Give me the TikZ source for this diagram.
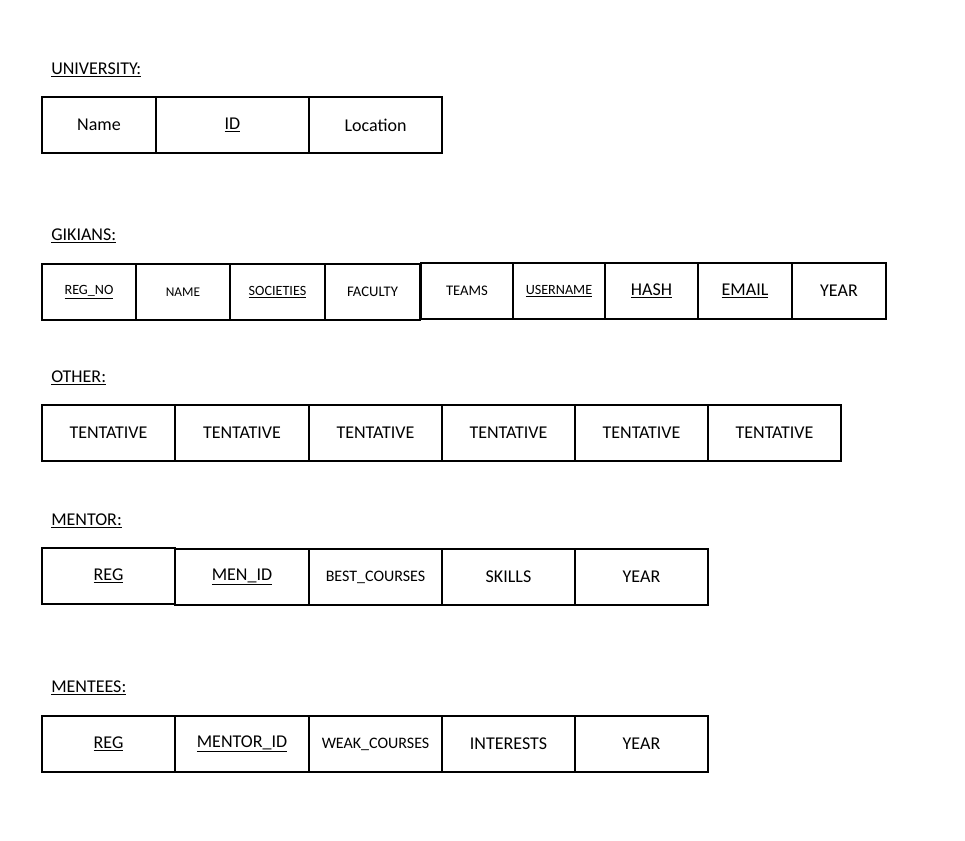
\documentclass[tikz,border=0pt]{standalone}
\usepackage{fontspec}
\setmainfont{Carlito}
\begin{document}
\begin{tikzpicture}[x=0.75pt,y=-0.75pt,
  cell/.style={draw=black, line width=1.5pt, inner sep=0pt, anchor=north west,
    minimum height=56*0.75pt, font=\fontsize{13.5}{16}\selectfont},
  small/.style={font=\fontsize{10.6}{12}\selectfont},
  mid/.style={font=\fontsize{11}{13}\selectfont},
  medium/.style={font=\fontsize{12}{14}\selectfont},
  title/.style={anchor=west, inner sep=0pt, font=\fontsize{13.5}{16}\selectfont}]
\useasboundingbox (0,0) rectangle (965,840);

% UNIVERSITY
\node[title] (tuni) at (51,70) {\underline{UNIVERSITY:}};
\node[cell, minimum width=114*0.75pt] (u1) at (41,96) {Name};
\node[cell, minimum width=153*0.75pt] (u2) at (155,96) {\underline{ID}};
\node[cell, minimum width=133*0.75pt] (u3) at (308,96) {Location};

% GIKIANS
\node[title] (tgik) at (51,236) {\underline{GIKIANS:}};
\node[cell, small, minimum width=94*0.75pt] (g1) at (41,263) {\underline{REG\_NO}};
\node[cell, font=\fontsize{10}{12}\selectfont, minimum width=94*0.75pt] (g2) at (135,263) {NAME};
\node[cell, small, minimum width=95*0.75pt] (g3) at (229,263) {\underline{SOCIETIES}};
\node[cell, mid, minimum width=95*0.75pt] (g4) at (324,263) {FACULTY};
\node[cell, mid, minimum width=92*0.75pt] (g5) at (420,262) {TEAMS};
\node[cell, small, minimum width=92*0.75pt] (g6) at (512,262) {\underline{USERNAME}};
\node[cell, minimum width=93*0.75pt] (g7) at (604,262) {\underline{HASH}};
\node[cell, minimum width=94*0.75pt] (g8) at (697,262) {\underline{EMAIL}};
\node[cell, minimum width=94*0.75pt] (g9) at (791,262) {YEAR};

% OTHER
\node[title] (toth) at (51,378) {\underline{OTHER:}};
\node[cell, minimum width=133*0.75pt] (o1) at (41,404) {TENTATIVE};
\node[cell, minimum width=134*0.75pt] (o2) at (174,404) {TENTATIVE};
\node[cell, minimum width=133*0.75pt] (o3) at (308,404) {TENTATIVE};
\node[cell, minimum width=133*0.75pt] (o4) at (441,404) {TENTATIVE};
\node[cell, minimum width=133*0.75pt] (o5) at (574,404) {TENTATIVE};
\node[cell, minimum width=133*0.75pt] (o6) at (707,404) {TENTATIVE};

% MENTOR
\node[title] (tmen) at (51,521) {\underline{MENTOR:}};
\node[cell, minimum width=133*0.75pt] (m1) at (41,547) {\underline{REG}};
\node[cell, minimum width=134*0.75pt] (m2) at (174,548) {\underline{MEN\_ID}};
\node[cell, medium, minimum width=133*0.75pt] (m3) at (308,548) {BEST\_COURSES};
\node[cell, minimum width=133*0.75pt] (m4) at (441,548) {SKILLS};
\node[cell, minimum width=133*0.75pt] (m5) at (574,548) {YEAR};

% MENTEES
\node[title] (tmee) at (51,688) {\underline{MENTEES:}};
\node[cell, minimum width=133*0.75pt] (e1) at (41,715) {\underline{REG}};
\node[cell, minimum width=134*0.75pt] (e2) at (174,715) {\underline{MENTOR\_ID}};
\node[cell, medium, minimum width=133*0.75pt] (e3) at (308,715) {WEAK\_COURSES};
\node[cell, minimum width=133*0.75pt] (e4) at (441,715) {INTERESTS};
\node[cell, minimum width=133*0.75pt] (e5) at (574,715) {YEAR};
\end{tikzpicture}
\end{document}
